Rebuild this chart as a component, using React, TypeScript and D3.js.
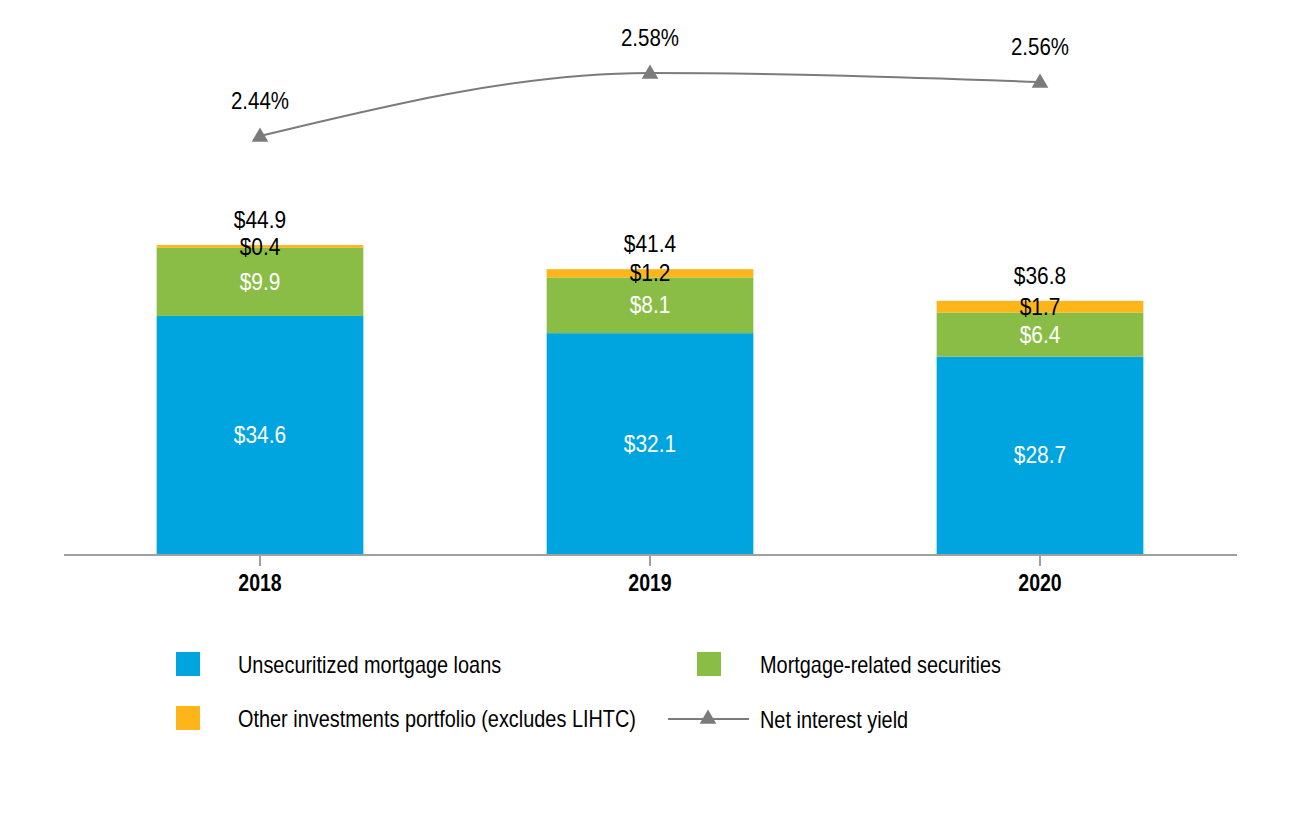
import React, { useEffect, useRef } from "react";
import * as d3 from "d3";

const years = ["2018", "2019", "2020"];
const unsecuritized = [34.6, 32.1, 28.7];
const mortgageSecurities = [9.9, 8.1, 6.4];
const otherInvestments = [0.4, 1.2, 1.7];
const totals = [44.9, 41.4, 36.8];
const netInterestYield = [2.44, 2.58, 2.56];

const seriesNames = [
  "Unsecuritized mortgage loans",
  "Mortgage-related securities",
  "Other investments portfolio (excludes LIHTC)",
  "Net interest yield",
];
const colors = ["#00A5E0", "#8ABD45", "#FDB51A"];
const lineColor = "#7b7b7b";
const FONT = "'Liberation Sans', Arial, sans-serif";

function addText(
  parent: any,
  x: number,
  y: number,
  txt: string,
  opts: { anchor?: string; sx?: number; weight?: string; fill?: string; size?: number } = {}
) {
  const g = parent.append("g").attr("transform", `translate(${x},${y}) scale(${opts.sx ?? 0.91},1)`);
  g.append("text")
    .attr("x", 0)
    .attr("y", 0)
    .attr("text-anchor", opts.anchor ?? "middle")
    .attr("dominant-baseline", "middle")
    .attr("font-family", FONT)
    .attr("font-size", opts.size ?? 23)
    .attr("font-weight", opts.weight ?? "normal")
    .attr("fill", opts.fill ?? "#000")
    .text(txt);
  return g;
}

export default function App() {
  const ref = useRef<SVGSVGElement>(null);

  useEffect(() => {
    const svg = d3.select(ref.current);
    svg.selectAll("*").remove();

    const baseY = 554;
    const x = d3.scaleBand<string>().domain(years).range([65, 1235]).paddingInner(0.47).paddingOuter(0.235);
    const y = d3.scaleLinear().domain([0, 50]).range([baseY, baseY - 344]);
    const yl = d3.scaleLinear().domain([2.44, 2.58]).range([136, 73]);

    const data = years.map((yr, i) => ({
      year: yr,
      u: unsecuritized[i],
      m: mortgageSecurities[i],
      o: otherInvestments[i],
    }));
    const stack = d3.stack<any>().keys(["u", "m", "o"]);
    const layers = stack(data);

    const g = svg.append("g");
    layers.forEach((layer, li) => {
      g.selectAll(null)
        .data(layer)
        .enter()
        .append("rect")
        .attr("x", (d: any) => x(d.data.year)!)
        .attr("width", x.bandwidth())
        .attr("y", (d: any) => y(d[1]))
        .attr("height", (d: any) => y(d[0]) - y(d[1]))
        .attr("fill", colors[li]);
    });

    // segment labels
    layers.forEach((layer, li) => {
      layer.forEach((d: any) => {
        addText(
          g,
          x(d.data.year)! + x.bandwidth() / 2,
          (y(d[0]) + y(d[1])) / 2 + 2,
          "$" + (d[1] - d[0]).toFixed(1),
          { fill: li === 2 ? "#000" : "#fff" }
        );
      });
    });

    // totals
    years.forEach((yr, i) => {
      addText(
        g,
        x(yr)! + x.bandwidth() / 2,
        y(unsecuritized[i] + mortgageSecurities[i] + otherInvestments[i]) - 23,
        "$" + totals[i].toFixed(1)
      );
    });

    // axis
    svg.append("line").attr("x1", 64).attr("x2", 1237).attr("y1", baseY + 1).attr("y2", baseY + 1)
      .attr("stroke", "#a0a0a0").attr("stroke-width", 2);
    years.forEach((yr) => {
      const cx = x(yr)! + x.bandwidth() / 2;
      svg.append("line").attr("x1", cx).attr("x2", cx).attr("y1", baseY + 1).attr("y2", baseY + 12)
        .attr("stroke", "#a0a0a0").attr("stroke-width", 2);
      addText(svg, cx, 585, yr, { weight: "bold", sx: 0.85 });
    });

    // line
    const pts = years.map((yr, i) => [x(yr)! + x.bandwidth() / 2, yl(netInterestYield[i])] as [number, number]);
    const lineGen = d3.line().curve(d3.curveMonotoneX);
    svg.append("path").attr("d", lineGen(pts)!).attr("fill", "none").attr("stroke", lineColor).attr("stroke-width", 2);
    const tri = d3.symbol().type(d3.symbolTriangle).size(120);
    pts.forEach((p, i) => {
      svg.append("path").attr("d", tri()!).attr("transform", `translate(${p[0]},${p[1] + 1})`).attr("fill", lineColor);
      addText(svg, p[0], p[1] - 33, netInterestYield[i].toFixed(2) + "%", { sx: 0.89 });
    });

    // legend
    const leg = svg.append("g");
    const items = [
      { name: seriesNames[0], kind: "rect", color: colors[0], x: 176, y: 664, tx: 238 },
      { name: seriesNames[1], kind: "rect", color: colors[1], x: 697, y: 664, tx: 760 },
      { name: seriesNames[2], kind: "rect", color: colors[2], x: 176, y: 718, tx: 238 },
      { name: seriesNames[3], kind: "line", color: lineColor, x: 668, y: 719, tx: 760 },
    ];
    items.forEach((it) => {
      if (it.kind === "rect") {
        leg.append("rect").attr("x", it.x).attr("y", it.y - 12).attr("width", 24).attr("height", 24).attr("fill", it.color);
      } else {
        leg.append("line").attr("x1", it.x).attr("x2", it.x + 81).attr("y1", it.y).attr("y2", it.y)
          .attr("stroke", it.color).attr("stroke-width", 2);
        leg.append("path").attr("d", tri()!).attr("transform", `translate(${it.x + 40},${it.y})`).attr("fill", it.color);
      }
      addText(leg, it.tx, it.y + 3, it.name, { anchor: "start", sx: 0.865 });
    });
  }, []);

  return (
    <svg
      ref={ref}
      width={1300}
      height={820}
      style={{ position: "absolute", left: 0, top: 0, background: "#fff" }}
    />
  );
}
